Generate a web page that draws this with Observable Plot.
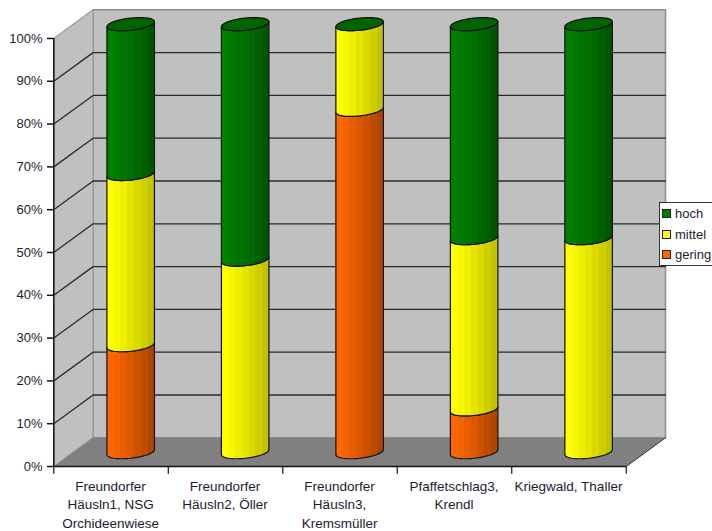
<!DOCTYPE html>
<html>
<head>
<meta charset="utf-8">
<script src="https://cdn.jsdelivr.net/npm/d3@7"></script>
<script src="https://cdn.jsdelivr.net/npm/@observablehq/plot@0.6"></script>
<style>
  html, body { margin: 0; padding: 0; background: #fff; }
  #chart { position: relative; width: 712px; height: 531px; overflow: hidden; font-family: "Liberation Sans", Arial, sans-serif; }
  #chart svg { display: block; }
  .legend { position: absolute; left: 659px; top: 202px; width: 53px; height: 64px; box-sizing: border-box; background: #fff; border: 1px solid #333; border-right: none; font-size: 13px; color: #1c1c30; }
  .legend div { position: absolute; left: 2px; height: 21px; line-height: 21px; padding-left: 13px; white-space: nowrap; }
  .legend i { position: absolute; left: 0; top: 6px; width: 7px; height: 7px; border: 1px solid #222; }
</style>
</head>
<body>
<div id="chart"></div>
<script>
// Share of each class per site, in percent
const categories = [
  "Freundorfer\nHäusln1, NSG\nOrchideenwiese",
  "Freundorfer\nHäusln2, Öller",
  "Freundorfer\nHäusln3,\nKremsmüller",
  "Pfaffetschlag3,\nKrendl",
  "Kriegwald, Thaller"
];
const gering = [25, 0, 80, 10, 0];
const mittel = [40, 45, 20, 40, 50];
const hoch = [35, 55, 0, 50, 50];
const yTicks = [0, 10, 20, 30, 40, 50, 60, 70, 80, 90, 100];
const seriesNames = ["gering", "mittel", "hoch"];
const seriesValues = [gering, mittel, hoch];

// Colour bands of the shaded cylinder sides, left to right
const bands = {
  gering: ["#ff6600", "#f56200", "#e85d00", "#dc5800", "#cc5200", "#bd4c00", "#ad4600"],
  mittel: ["#ffff00", "#f7f700", "#eeee00", "#e4e400", "#d9d900", "#cfcf00", "#c2c200"],
  hoch: ["#008000", "#007a00", "#007400", "#006e00", "#006800", "#006000", "#005600"]
};
const capColor = "#006400";

// Oblique projection: one unit of depth moves this far in category and percent units
const depthX = 0.343;
const depthY = 6.7;
const project = (cat, pct, depth) => ({x: cat + depth * depthX, y: pct + depth * depthY});

// Cylinder proportions in category units and depth units
const radiusCat = 0.192;
const radiusDepth = 0.23;
const midDepth = 0.5;
const theta0 = Math.atan2(radiusDepth * depthX, radiusCat);

const ringPoint = (i, pct, theta) =>
  project(i + 0.5 + radiusCat * Math.cos(theta), pct, midDepth + radiusDepth * Math.sin(theta));

const arcAngles = d3.range(0, 25).map((k) => theta0 + Math.PI + (k / 24) * Math.PI);

// Side of one stacked segment: front arc at the base, then front arc back at its top
function sidePolygon(i, name, y0, y1) {
  const low = arcAngles.map((t) => ringPoint(i, y0, t));
  const high = arcAngles.slice().reverse().map((t) => ringPoint(i, y1, t));
  return [...low, ...high, low[0]].map((p) => ({...p, id: `${name}-${i}`}));
}

const segments = Object.fromEntries(seriesNames.map((n) => [n, []]));
categories.forEach((_, i) => {
  let base = 0;
  seriesNames.forEach((name, s) => {
    const v = seriesValues[s][i];
    if (v > 0) segments[name].push(...sidePolygon(i, name, base, base + v));
    base += v;
  });
});

// Elliptical lid on top of each full stack
const caps = categories.flatMap((_, i) => {
  const total = gering[i] + mittel[i] + hoch[i];
  return d3.range(0, 49).map((k) => ({...ringPoint(i, total, (k / 48) * 2 * Math.PI), id: i}));
});

// Chart box walls and floor
const wallBack = [project(0, 0, 1), project(5, 0, 1), project(5, 100, 1), project(0, 100, 1), project(0, 0, 1)];
const wallLeft = [project(0, 0, 0), project(0, 0, 1), project(0, 100, 1), project(0, 100, 0), project(0, 0, 0)];
const floor = [project(0, 0, 0), project(5, 0, 0), project(5, 0, 1), project(0, 0, 1), project(0, 0, 0)];
const gridLines = yTicks.filter((t) => t > 0 && t < 100).flatMap((t) =>
  [project(0, t, 0), project(0, t, 1), project(5, t, 1)].map((p) => ({...p, id: t}))
);
const floorEdge = [project(5, 0, 0), project(5, 0, 1)];
const xTickValues = d3.range(0, 6);

function gradientDefs() {
  const defs = d3.create("svg:defs");
  for (const name of seriesNames) {
    const g = defs.append("linearGradient").attr("id", `side-${name}`);
    bands[name].forEach((c, k, all) => {
      g.append("stop").attr("offset", k / all.length).attr("stop-color", c);
      g.append("stop").attr("offset", (k + 1) / all.length).attr("stop-color", c);
    });
  }
  return defs.node();
}

const XY = {x: "x", y: "y"};
const plot = Plot.plot({
  width: 712,
  height: 531,
  marginLeft: 53,
  marginRight: 47,
  marginTop: 9,
  marginBottom: 65,
  style: {background: "transparent", fontFamily: '"Liberation Sans", Arial, sans-serif', fontSize: "13px", overflow: "visible"},
  x: {type: "linear", domain: [0, 5 + depthX], range: [53.3, 665], axis: null},
  y: {type: "linear", domain: [0, 100 + depthY], range: [466, 9.3], axis: null},
  marks: [
    gradientDefs,
    Plot.line(wallBack, {...XY, fill: "#c0c0c0", stroke: "#8c8c8c", strokeWidth: 1.5}),
    Plot.line(wallLeft, {...XY, fill: "#c0c0c0", stroke: "#9a9a9a", strokeWidth: 1.2}),
    Plot.line(floor, {...XY, fill: "#808080", stroke: "none"}),
    Plot.line(gridLines, {...XY, z: "id", stroke: "#2a2a2a", strokeWidth: 1.3}),
    Plot.line(floorEdge, {...XY, stroke: "#333", strokeWidth: 1}),
    ...seriesNames.map((n) =>
      Plot.line(segments[n], {...XY, z: "id", fill: `url(#side-${n})`, stroke: "#111", strokeWidth: 1.2})
    ),
    Plot.line(caps, {...XY, z: "id", fill: capColor, stroke: "#111", strokeWidth: 1.2}),
    Plot.ruleY([0], {x1: 0, x2: 5, stroke: "#111", strokeWidth: 1.5}),
    Plot.ruleX([0], {y1: 0, y2: 100, stroke: "#111", strokeWidth: 1.5}),
    Plot.ruleX(xTickValues, {y1: 0, y2: -1.8, stroke: "#111", strokeWidth: 1.2}),
    Plot.axisY({
      ticks: yTicks,
      tickFormat: (d) => `${d}%`,
      tickSize: 6,
      tickPadding: 5,
      stroke: "#111",
      strokeWidth: 1.5,
      fill: "#1c1c30",
      fontSize: 13,
      label: null
    }),
    Plot.text(categories, {
      x: (_, i) => i + 0.5,
      y: 0,
      text: (d) => d,
      dy: 11,
      dx: -0.5,
      lineAnchor: "top",
      lineHeight: 1.37,
      fill: "#1c1c30",
      fontSize: 13.5
    })
  ]
});

const chart = document.getElementById("chart");
chart.appendChild(plot);

// Legend box over the right edge of the chart
const legend = d3.select(chart).append("div").attr("class", "legend");
const legendSwatches = {hoch: "#008000", mittel: "#ffff00", gering: "#ff6600"};
["hoch", "mittel", "gering"].forEach((name, k) => {
  const row = legend.append("div").style("top", `${k * 20.7}px`).text(name);
  row.append("i").style("background", legendSwatches[name]);
});
</script>
</body>
</html>
